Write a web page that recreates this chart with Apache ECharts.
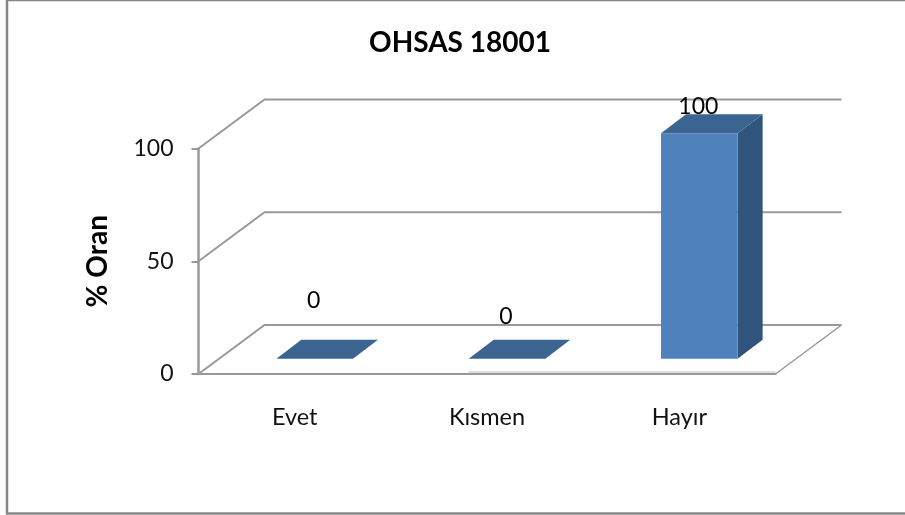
<!DOCTYPE html>
<html><head><meta charset="utf-8">
<style>html,body{margin:0;padding:0;background:#fff}#c{width:905px;height:515px}</style>
<script src="https://cdn.jsdelivr.net/npm/echarts@6/dist/echarts.min.js"></script>
</head><body><div id="c"></div>
<script>
var categories = ['Evet', 'K\u0131smen', 'Hay\u0131r'];
var values = [0, 0, 100];
var yTicks = [0, 50, 100];
var titleText = 'OHSAS 18001';
var yName = '% Oran';

var DX = 66, DY = -49;            // wall depth
var SX = 20, SY = -15.3;          // bar offset from front plane
var BX = 25, BY = -19;            // bar depth
var BAR_W = 76.6;
var LABEL_LIFT = [58, 42, 27];
var LINE = '#999999';
var FONT = 'Lato';

var chart = echarts.init(document.getElementById('c'), null, {renderer: 'canvas'});

function wallItem(params, api) {
  var cs = params.coordSys;
  var v = api.value(0);
  var y = api.coord([0, v])[1];
  var l = cs.x, r = cs.x + cs.width;
  var children = [{
    type: 'polyline',
    shape: {points: [[l, y], [l + DX, y + DY], [r + DX, y + DY]]},
    style: {stroke: LINE, lineWidth: 2, fill: null}
  }];
  if (v === 0) {
    children.push({
      type: 'line',
      shape: {x1: r + DX, y1: y + DY, x2: r, y2: y},
      style: {stroke: LINE, lineWidth: 1.5}
    });
    children.push({
      type: 'line',
      shape: {x1: api.coord([1, 0])[0] + SX - BAR_W / 2, y1: y - 2, x2: r, y2: y - 2},
      style: {stroke: '#dedede', lineWidth: 2}
    });
  }
  return {type: 'group', children: children};
}

function barItem(params, api) {
  var i = api.value(0), v = api.value(1);
  var base = api.coord([i, 0]);
  var top = api.coord([i, v]);
  var x0 = base[0] + SX - BAR_W / 2, x1 = x0 + BAR_W;
  var yb = base[1] + SY, yt = top[1] + SY;
  var children = [];
  if (v > 0) {
    children.push({type: 'polygon',
      shape: {points: [[x1, yt], [x1 + BX, yt + BY], [x1 + BX, yb + BY], [x1, yb]]},
      style: {fill: '#31547C'}});
    children.push({type: 'rect',
      shape: {x: x0, y: yt, width: BAR_W, height: yb - yt},
      style: {fill: '#4F81BD'}});
  }
  children.push({type: 'polygon',
    shape: {points: [[x0, yt], [x0 + BX, yt + BY], [x1 + BX, yt + BY], [x1, yt]]},
    style: {fill: '#3C6491'}});
  children.push({type: 'text',
    style: {text: String(v), x: base[0] + SX - (i === 0 ? 1 : 1), y: yt - LABEL_LIFT[i],
      align: 'center', verticalAlign: 'middle', fill: '#000',
      font: '23px ' + FONT}, z2: 10});
  return {type: 'group', children: children};
}

chart.setOption({
  animation: false,
  backgroundColor: '#ffffff',
  title: {
    text: titleText, left: 455, top: 24, textAlign: 'center',
    textStyle: {fontFamily: FONT, fontWeight: 'bold', fontSize: 28, color: '#000'}
  },
  grid: {left: 198.5, right: 129.5, top: 148.5, bottom: 141},
  xAxis: {
    type: 'category', data: categories,
    axisLine: {lineStyle: {color: LINE, width: 2}},
    axisTick: {show: false},
    axisLabel: {margin: 31, fontFamily: FONT, fontSize: 23.5, color: '#111'}
  },
  yAxis: {
    type: 'value', min: 0, max: 100, interval: 50,
    name: yName, nameLocation: 'middle', nameGap: 87, nameRotate: 90,
    nameTextStyle: {fontFamily: FONT, fontWeight: 'bold', fontSize: 28, color: '#000'},
    axisLine: {show: true, lineStyle: {color: LINE, width: 2.5}},
    axisTick: {show: true, length: 7, lineStyle: {color: LINE, width: 2}},
    axisLabel: {margin: 25, padding: [3, 0, 0, 0], fontFamily: FONT, fontSize: 23, color: '#111'},
    splitLine: {show: false}
  },
  graphic: [{
    type: 'rect', silent: true, z: -1,
    shape: {x: 7, y: 0, width: 1000, height: 513.5},
    style: {fill: null, stroke: '#868686', lineWidth: 2.5}
  }],
  series: [
    {type: 'custom', name: 'walls', renderItem: wallItem, silent: true, z: 1,
     clip: false, encode: {y: 0},
     data: yTicks.map(function (t) { return [t]; })},
    {type: 'custom', name: yName, renderItem: barItem, z: 3, clip: false,
     encode: {x: 0, y: 1},
     data: values.map(function (v, i) { return [i, v]; })}
  ]
});
</script></body></html>
